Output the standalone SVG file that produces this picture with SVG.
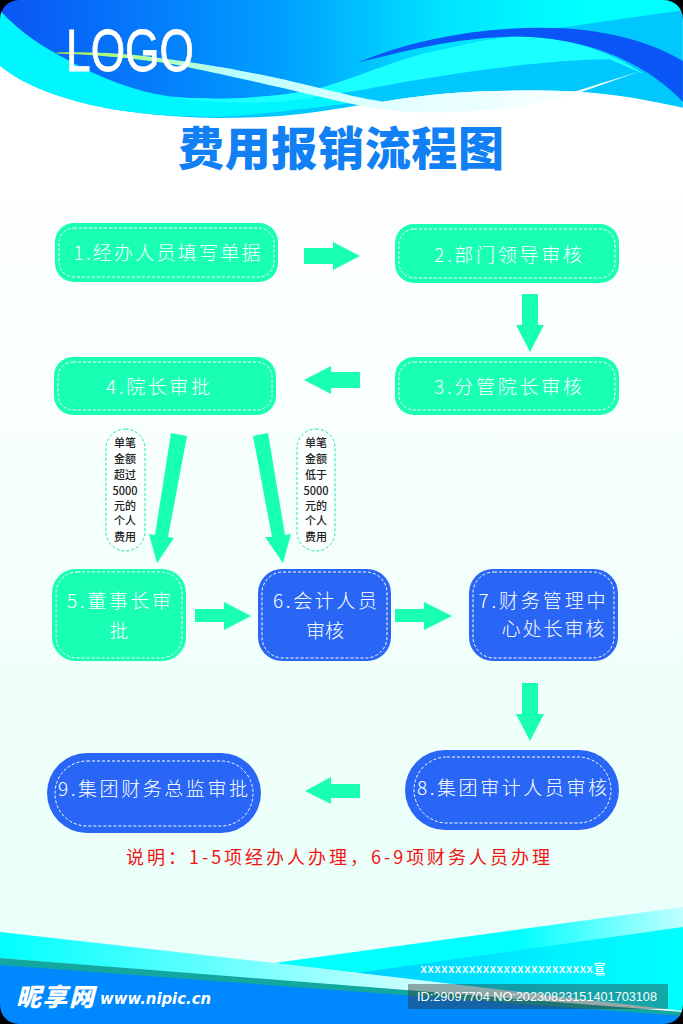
<svg xmlns="http://www.w3.org/2000/svg" width="683" height="1024" viewBox="0 0 683 1024">
<defs>
<linearGradient id="bg" x1="0" y1="0" x2="0" y2="1"><stop offset="0.15" stop-color="#ffffff"/><stop offset="0.9" stop-color="#eafff9"/></linearGradient>
<linearGradient id="sky" gradientUnits="userSpaceOnUse" x1="0" y1="0" x2="1568" y2="0"><stop offset="0" stop-color="#0a55f5"/><stop offset="0.4" stop-color="#009cff"/><stop offset="0.65" stop-color="#00e4ff"/><stop offset="0.85" stop-color="#00ffff"/></linearGradient>
<linearGradient id="rib" gradientUnits="userSpaceOnUse" x1="130" y1="0" x2="1470" y2="0"><stop offset="0" stop-color="#b0f040"/><stop offset="0.12" stop-color="#b0ff90"/><stop offset="0.3" stop-color="#b8ffff"/><stop offset="0.55" stop-color="#e0ffff"/><stop offset="1" stop-color="#ffffff"/></linearGradient>
<linearGradient id="band" x1="0" y1="0" x2="1" y2="0"><stop offset="0" stop-color="#00ffff"/><stop offset="0.3" stop-color="#60ffff"/><stop offset="0.6" stop-color="#c8ffff"/><stop offset="1" stop-color="#f0ffff"/></linearGradient>
<linearGradient id="rgt" x1="0" y1="0" x2="1" y2="0"><stop offset="0" stop-color="#00ffff"/><stop offset="0.6" stop-color="#00ffff"/><stop offset="1" stop-color="#c0ffff"/></linearGradient>
<linearGradient id="rgt2" x1="0" y1="0" x2="1" y2="0"><stop offset="0" stop-color="#00ccff"/><stop offset="0.6" stop-color="#00f0ff"/><stop offset="1" stop-color="#00ffff"/></linearGradient>
</defs>
<style>
.g{fill:#19ffb4}.b{fill:#2a66f5}
.d{fill:none;stroke:#fff;stroke-width:1;stroke-dasharray:3 2}
.t{font-family:"Noto Sans CJK SC","Noto Sans",sans-serif;font-size:19px;fill:#fff;text-anchor:middle;font-weight:300}
.s{font-family:"Noto Sans CJK SC",sans-serif;font-size:11px;font-weight:500;fill:#222;text-anchor:middle}
.c{fill:#fbfffe;stroke:#19e8b0;stroke-width:1;stroke-dasharray:3 2}
.a{fill:#19ffb4}
</style>
<rect width="683" height="1024" fill="url(#bg)"/>
<g id="header" transform="scale(0.4355,0.339)">
<path d="M0 193C60 260 180 310 300 330C370 342 440 348 500 348C570 348 640 345 700 335C760 325 820 310 880 300C950 285 1030 272 1100 270C1180 266 1260 266 1320 270C1410 276 1500 298 1568 318V0H0Z" fill="#00c8ff"/>
<path d="M0 30V193C60 260 180 310 300 330C370 342 440 346 520 344C600 335 720 320 820 300L700 270L300 150Z" fill="#00f6ff"/>
<path d="M0 30C40 90 100 140 160 180C230 230 310 270 390 285C460 295 600 295 720 265C800 240 920 180 1000 150C1100 115 1180 100 1568 30V0H0Z" fill="url(#sky)"/>
<path d="M390 285C460 295 600 295 720 265C800 240 920 170 1000 150C1080 125 1130 112 1180 108C1280 105 1390 140 1480 220L1400 175C1280 175 1100 205 960 235C880 252 780 280 640 300C560 306 460 304 390 285Z" fill="#1affff"/>
<path d="M820 185C950 115 1100 82 1240 82C1380 82 1490 120 1568 180V300C1500 210 1380 110 1180 108C1050 110 930 150 820 185Z" fill="#0a55f5"/>
<path d="M130 155C250 150 340 165 430 182C550 205 640 230 720 255C780 275 840 292 880 300C950 285 1030 272 1100 270C1180 266 1260 266 1320 270L1470 210L1328 274C1230 310 1120 332 1000 332C900 332 830 315 750 290C650 260 500 215 400 190C300 170 200 160 130 158Z" fill="url(#rib)"/>
</g>
<text x="130" y="71" font-family="Liberation Sans,sans-serif" font-size="60" fill="#fff" stroke="#fff" stroke-width="0.8" textLength="128" lengthAdjust="spacingAndGlyphs" text-anchor="middle">LOGO</text>
<text x="341" y="165" font-family="Noto Sans CJK SC,sans-serif" font-size="46" font-weight="900" fill="#1080f4" text-anchor="middle" textLength="326">费用报销流程图</text>
<g id="footer">
<path d="M274 963L683 907V1012Z" fill="url(#rgt)"/>
<path d="M357 973L683 927V1012Z" fill="url(#rgt2)"/>
<path d="M0 932L274 963L683 1011V1014L0 958Z" fill="url(#band)"/>
<path d="M0 958L683 1012V1024H0Z" fill="#12a8a0"/>
<path d="M0 965L683 1016V1024H0Z" fill="#0088ff"/>
<text x="513" y="973" font-family="Noto Sans CJK SC,sans-serif" font-size="12" font-weight="500" fill="#fff" text-anchor="middle" textLength="185">xxxxxxxxxxxxxxxxxxxxxxxxx宣</text>
<rect x="596" y="974.500" width="9" height="1" fill="#fff"/>
<text x="16" y="1006" font-family="Noto Sans CJK SC,sans-serif" font-size="25" font-weight="900" fill="#fff" font-style="italic" textLength="78">昵享网</text>
<text x="100" y="1004" font-family="DejaVu Sans,sans-serif" font-size="15" font-weight="700" font-style="italic" fill="#fff" textLength="111" lengthAdjust="spacingAndGlyphs">www.nipic.cn</text>
<rect x="408" y="984" width="260" height="25" rx="1" fill="#303030" fill-opacity="0.42"/>
<text x="417" y="1001" font-family="Liberation Sans,sans-serif" font-size="13" fill="#fff" textLength="240" lengthAdjust="spacingAndGlyphs">ID:29097704 NO:20230823151401703108</text>
</g>
<g id="connectors">
<path class="a" d="M304 248H333V242L360 256L333 270V264H304Z"/>
<path class="a" d="M522 294H538V325H544L530 352L516 325H522Z"/>
<path class="a" d="M360 372V388H331V394L304 380L331 366V372Z"/>
<path class="a" d="M171 433L187 436L168 537L174 538L157 563L149 534L155 535Z"/>
<path class="a" d="M253 436L268 433L285 535L291 534L283 563L265 537L272 537Z"/>
<path class="a" d="M195 609H224V602L251 616L224 630V622H195Z"/>
<path class="a" d="M395 609H424V602L452 616L424 630V622H395Z"/>
<path class="a" d="M522 683H538V714H544L530 741L516 714H522Z"/>
<path class="a" d="M360 784V798H331V804L305 791L331 777V784Z"/>
</g>
<g id="n1"><rect class="g" x="55" y="223" width="223" height="59" rx="19"/><rect class="d" x="59" y="228" width="215" height="49" rx="15"/><text class="t" x="167" y="260" textLength="187">1.经办人员填写单据</text></g>
<g id="n2"><rect class="g" x="395" y="224" width="224" height="59" rx="19"/><rect class="d" x="399" y="229" width="216" height="49" rx="15"/><text class="t" x="508" y="262" textLength="148">2.部门领导审核</text></g>
<g id="n3"><rect class="g" x="395" y="357" width="224" height="58" rx="19"/><rect class="d" x="399" y="362" width="216" height="48" rx="15"/><text class="t" x="508" y="394" textLength="148">3.分管院长审核</text></g>
<g id="n4"><rect class="g" x="54" y="357" width="222" height="58" rx="19"/><rect class="d" x="58" y="362" width="214" height="48" rx="15"/><text class="t" x="158" y="394" textLength="104">4.院长审批</text></g>
<g id="n5"><rect class="g" x="52" y="569" width="134" height="92" rx="24"/><rect class="d" x="56" y="572" width="126" height="86" rx="21"/><text class="t" x="119" y="608" textLength="104">5.董事长审</text><text class="t" x="119" y="638">批</text></g>
<g id="n6"><rect class="b" x="258" y="569" width="133" height="92" rx="24"/><rect class="d" x="262" y="572" width="125" height="86" rx="21"/><text class="t" x="325" y="608" textLength="104">6.会计人员</text><text class="t" x="325" y="638" textLength="38">审核</text></g>
<g id="n7"><rect class="b" x="469" y="569" width="149" height="92" rx="24"/><rect class="d" x="473" y="572" width="141" height="86" rx="21"/><text class="t" x="542" y="608" textLength="127">7.财务管理中</text><text class="t" x="553" y="636" textLength="103">心处长审核</text></g>
<g id="n8"><rect class="b" x="405" y="750" width="214" height="80" rx="40"/><rect class="d" x="414" y="757" width="197" height="66" rx="33"/><text class="t" x="512" y="795" textLength="190">8.集团审计人员审核</text></g>
<g id="n9"><rect class="b" x="47" y="753" width="214" height="80" rx="40"/><rect class="d" x="55" y="761" width="198" height="65" rx="32"/><text class="t" x="153" y="796" textLength="190">9.集团财务总监审批</text></g>
<g id="note1"><rect class="c" x="106" y="429" width="39" height="122" rx="19.500"/>
<text class="s"><tspan x="125" y="447" textLength="22">单笔</tspan><tspan x="125" y="463" textLength="22">金额</tspan><tspan x="125" y="479" textLength="22">超过</tspan><tspan x="125" y="495">5000</tspan><tspan x="125" y="510" textLength="22">元的</tspan><tspan x="125" y="525" textLength="22">个人</tspan><tspan x="125" y="541" textLength="22">费用</tspan></text></g>
<g id="note2"><rect class="c" x="297" y="429" width="38" height="122" rx="19"/>
<text class="s"><tspan x="316" y="447" textLength="22">单笔</tspan><tspan x="316" y="463" textLength="22">金额</tspan><tspan x="316" y="479" textLength="22">低于</tspan><tspan x="316" y="495">5000</tspan><tspan x="316" y="510" textLength="22">元的</tspan><tspan x="316" y="525" textLength="22">个人</tspan><tspan x="316" y="541" textLength="22">费用</tspan></text></g>
<text x="338" y="864" font-family="Noto Sans CJK SC,sans-serif" font-size="18" fill="#f01414" text-anchor="middle" textLength="424">说明：1-5项经办人办理，6-9项财务人员办理</text>
<path fill="#000" fill-rule="evenodd" d="M0 0H683V1024H0ZM20 0C8 0 0 8 0 20V1004C0 1016 8 1024 20 1024H663C675 1024 683 1016 683 1004V20C683 8 675 0 663 0Z"/>
</svg>
